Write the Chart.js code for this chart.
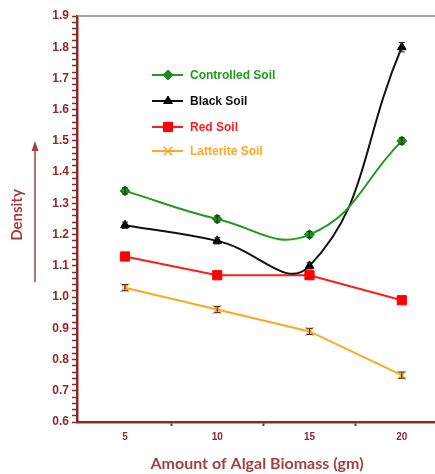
<!DOCTYPE html>
<html>
<head>
<meta charset="utf-8">
<script src="https://cdn.jsdelivr.net/npm/chart.js@4"></script>
<style>
  html, body { margin: 0; padding: 0; background: #fff; }
  #wrap { position: relative; width: 435px; height: 474px; }
</style>
</head>
<body>
<div id="wrap"><canvas id="densityChart" width="435" height="474"></canvas></div>
<script>
// dados
const biomass = [5, 10, 15, 20];
const controlledSoil = [1.34, 1.25, 1.20, 1.50];
const blackSoil = [1.23, 1.18, 1.10, 1.80];
const redSoil = [1.13, 1.07, 1.07, 0.99];
const latteriteSoil = [1.03, 0.96, 0.89, 0.75];
const controlledErr = [0.01, 0.01, 0.01, 0.01];
const blackErr = [0.01, 0.01, 0.01, 0.015];
const redErr = [0, 0, 0, 0];
const latteriteErr = [0.01, 0.01, 0.01, 0.01];
const xTicks = [5, 7.5, 10, 12.5, 15, 17.5, 20];

const maroon = '#8b2a2a';
const titleColor = '#a3403e';

const toPoints = (vals) => vals.map((v, i) => ({ x: biomass[i], y: v }));

// legenda dentro da área do gráfico + setas + barras de erro
const extras = {
    id: 'extras',
    afterDatasetsDraw(chart) {
        const c = chart.ctx;
        const area = chart.chartArea;
        // barras de erro
        chart.data.datasets.forEach((ds, di) => {
            const meta = chart.getDatasetMeta(di);
            const y = chart.scales.y;
            meta.data.forEach((pt, i) => {
                const e = ds.err[i];
                if (!e) return;
                const yTop = y.getPixelForValue(ds.data[i].y + e);
                const yBot = y.getPixelForValue(ds.data[i].y - e);
                c.save();
                c.strokeStyle = '#222';
                c.lineWidth = 1;
                c.beginPath();
                c.moveTo(pt.x, yTop); c.lineTo(pt.x, yBot);
                c.moveTo(pt.x - 3, yTop); c.lineTo(pt.x + 3, yTop);
                c.moveTo(pt.x - 3, yBot); c.lineTo(pt.x + 3, yBot);
                c.stroke();
                c.restore();
            });
        });

        // borda superior
        c.save();
        c.strokeStyle = '#888';
        c.lineWidth = 1.5;
        c.beginPath();
        c.moveTo(area.left, area.top);
        c.lineTo(area.right, area.top);
        c.stroke();
        c.restore();

        // legenda
        const rows = [75, 101, 127, 151];
        chart.data.datasets.forEach((ds, di) => {
            const yy = rows[di];
            c.save();
            c.strokeStyle = ds.borderColor;
            c.lineWidth = 2;
            c.beginPath();
            c.moveTo(152, yy); c.lineTo(183, yy);
            c.stroke();
            c.fillStyle = ds.pointBackgroundColor;
            c.strokeStyle = ds.pointBorderColor;
            c.lineWidth = ds.pointBorderWidth;
            Chart.helpers.drawPoint(c, {
                pointStyle: ds.pointStyle,
                radius: ds.pointRadius,
                borderWidth: ds.pointBorderWidth
            }, 168, yy);
            c.fillStyle = ds.borderColor;
            c.font = 'bold 12px "Liberation Sans", Arial, sans-serif';
            c.textBaseline = 'middle';
            c.fillText(ds.label, 190, yy + 1);
            c.restore();
        });
    },
    afterDraw(chart) {
        const c = chart.ctx;
        // título do eixo Y
        c.save();
        c.fillStyle = titleColor;
        c.font = 'bold 15px Lato, "Open Sans", sans-serif';
        c.translate(17, 215);
        c.rotate(-Math.PI / 2);
        c.textAlign = 'center';
        c.textBaseline = 'middle';
        c.fillText('Density', 0, 0);
        c.restore();

        // seta
        c.save();
        c.strokeStyle = titleColor;
        c.fillStyle = titleColor;
        c.lineWidth = 1.5;
        c.beginPath();
        c.moveTo(35, 282); c.lineTo(35, 146);
        c.stroke();
        c.beginPath();
        c.moveTo(35, 141); c.lineTo(31.5, 151); c.lineTo(38.5, 151);
        c.closePath();
        c.fill();
        c.restore();

        // título do eixo X
        c.save();
        c.fillStyle = titleColor;
        c.font = 'bold 16px Lato, "Open Sans", sans-serif';
        c.textAlign = 'center';
        c.textBaseline = 'middle';
        c.fillText('Amount of Algal Biomass (gm)', 257, 464);
        c.restore();
    }
};

new Chart(document.getElementById('densityChart'), {
    type: 'line',
    data: {
        datasets: [{
            label: 'Controlled Soil',
            data: toPoints(controlledSoil),
            err: controlledErr,
            borderColor: '#1f9a1f',
            pointBackgroundColor: '#1f8a1f',
            pointBorderColor: '#1f8a1f',
            pointStyle: 'rectRot',
            pointRadius: 5,
            pointBorderWidth: 1,
            borderWidth: 2,
            tension: 0.45
        }, {
            label: 'Black Soil',
            data: toPoints(blackSoil),
            err: blackErr,
            borderColor: '#111',
            pointBackgroundColor: '#000',
            pointBorderColor: '#000',
            pointStyle: 'triangle',
            pointRadius: 5,
            pointBorderWidth: 1,
            borderWidth: 2,
            tension: 0.45
        }, {
            label: 'Red Soil',
            data: toPoints(redSoil),
            err: redErr,
            borderColor: '#ff1c1c',
            pointBackgroundColor: '#ff0000',
            pointBorderColor: '#ff0000',
            pointStyle: 'rect',
            pointRadius: 6.5,
            pointBorderWidth: 1,
            borderWidth: 2,
            tension: 0
        }, {
            label: 'Latterite Soil',
            data: toPoints(latteriteSoil),
            err: latteriteErr,
            borderColor: '#ffa722',
            pointBackgroundColor: '#ffa722',
            pointBorderColor: '#ffa722',
            pointStyle: 'crossRot',
            pointRadius: 6,
            pointBorderWidth: 1.5,
            borderWidth: 2,
            tension: 0
        }]
    },
    options: {
        responsive: false,
        animation: false,
        // sem autoPadding: a área do gráfico vai até a borda direita do canvas
        layout: { autoPadding: false, padding: { top: 16, right: 0, left: 0, bottom: 0 } },
        plugins: {
            legend: { display: false },
            tooltip: { enabled: false }
        },
        scales: {
            x: {
                type: 'linear',
                min: 2.4,
                max: 21.8,
                afterBuildTicks: scale => {
                    scale.ticks = xTicks.map(v => ({ value: v }));
                },
                afterFit: scale => {
                    scale.height = 52;
                    scale.paddingRight = 0;
                    scale.paddingLeft = 0;
                },
                border: { color: maroon, width: 2.5 },
                grid: {
                    drawOnChartArea: false,
                    tickLength: 4,
                    tickWidth: 2,
                    tickColor: ctx => (ctx.tick && ctx.tick.value % 5 !== 0) ? maroon : 'rgba(0,0,0,0)'
                },
                ticks: {
                    color: maroon,
                    padding: 5,
                    autoSkip: false,
                    maxRotation: 0,
                    font: { family: '"Liberation Sans", Arial, sans-serif', size: 10, weight: 'bold' },
                    callback: v => (biomass.includes(v) ? String(v) : '')
                }
            },
            y: {
                min: 0.6,
                max: 1.9,
                afterFit: scale => {
                    scale.width = 77;
                    scale.paddingTop = 0;
                    scale.paddingBottom = 0;
                },
                border: { color: maroon, width: 2.5 },
                grid: {
                    drawOnChartArea: false,
                    tickLength: 5,
                    tickWidth: 1.5,
                    tickColor: maroon
                },
                ticks: {
                    stepSize: 0.02,
                    maxTicksLimit: 100,
                    autoSkip: false,
                    padding: 3,
                    color: maroon,
                    font: { family: '"Liberation Sans", Arial, sans-serif', size: 12, weight: 'bold' },
                    callback: v => (Math.abs(v * 10 - Math.round(v * 10)) < 1e-6 ? v.toFixed(1) : '')
                }
            }
        }
    },
    plugins: [extras]
});
</script>
</body>
</html>
